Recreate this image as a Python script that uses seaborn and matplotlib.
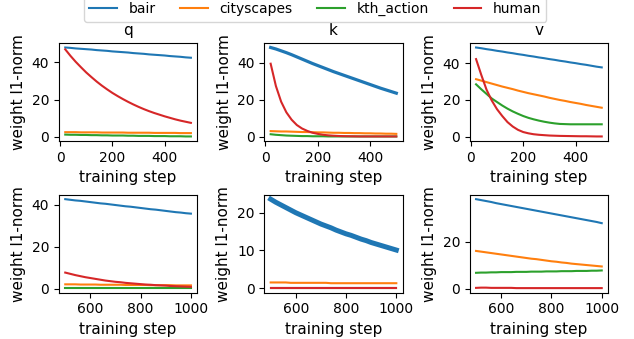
import numpy as np
import pandas as pd
import matplotlib
matplotlib.use("Agg")
import matplotlib.pyplot as plt
import seaborn as sns
from matplotlib.lines import Line2D

datasets = ["bair", "cityscapes", "kth_action", "human"]
colors = ["#1f77b4", "#ff7f0e", "#2ca02c", "#d62728"]

steps_early = list(range(20, 501, 20))     # 25 points
steps_late = list(range(500, 1001, 20))    # 26 points

# ---- q (early) ----
q_bair_early = [48.0, 47.8, 47.5, 47.3, 47.1, 46.9, 46.6, 46.4, 46.2, 45.9, 45.7, 45.5, 45.3,
                45.0, 44.8, 44.6, 44.3, 44.1, 43.9, 43.7, 43.4, 43.2, 43.0, 42.7, 42.5]
q_city_early = [2.5, 2.5, 2.5, 2.4, 2.4, 2.4, 2.4, 2.3, 2.3, 2.3, 2.3, 2.3, 2.2,
                2.2, 2.2, 2.2, 2.2, 2.1, 2.1, 2.1, 2.1, 2.1, 2.0, 2.0, 2.0]
q_kth_early = [1.2, 1.1, 1.1, 1.0, 1.0, 0.9, 0.9, 0.8, 0.8, 0.7, 0.7, 0.7, 0.6,
               0.6, 0.5, 0.5, 0.5, 0.4, 0.4, 0.4, 0.3, 0.3, 0.3, 0.2, 0.2]
q_human_early = [47.0, 43.5, 40.3, 37.4, 34.6, 32.1, 29.7, 27.5, 25.5, 23.6, 21.9, 20.3, 18.8,
                 17.4, 16.1, 14.9, 13.8, 12.8, 11.9, 11.0, 10.2, 9.4, 8.7, 8.1, 7.5]

# ---- k (early) ----
k_bair_early = [48.4, 47.6, 46.6, 45.6, 44.5, 43.3, 42.1, 40.9, 39.7, 38.6, 37.5, 36.4, 35.3,
                34.3, 33.3, 32.3, 31.3, 30.3, 29.3, 28.3, 27.3, 26.3, 25.4, 24.5, 23.6]
k_city_early = [3.0, 2.9, 2.8, 2.8, 2.7, 2.6, 2.5, 2.5, 2.4, 2.3, 2.3, 2.2, 2.1,
                2.1, 2.0, 2.0, 1.9, 1.9, 1.8, 1.8, 1.7, 1.7, 1.6, 1.6, 1.5]
k_kth_early = [1.3, 1.0, 0.8, 0.6, 0.5, 0.4, 0.3, 0.3, 0.2, 0.2, 0.2, 0.1, 0.1,
               0.1, 0.1, 0.1, 0.1, 0.1, 0.1, 0.1, 0.1, 0.1, 0.1, 0.1, 0.1]
k_human_early = [39.6, 27.5, 19.0, 13.2, 9.2, 6.3, 4.4, 3.1, 2.1, 1.5, 1.0, 0.7, 0.5,
                 0.35, 0.25, 0.2, 0.15, 0.1, 0.1, 0.1, 0.1, 0.1, 0.1, 0.1, 0.1]

# ---- v (early) ----
v_bair_early = [48.5, 48.1, 47.6, 47.2, 46.7, 46.3, 45.8, 45.4, 44.9, 44.5, 44.0, 43.6, 43.1,
                42.7, 42.2, 41.8, 41.3, 40.9, 40.4, 40.0, 39.5, 39.1, 38.6, 38.1, 37.7]
v_city_early = [31.3, 30.5, 29.7, 28.9, 28.1, 27.3, 26.6, 25.9, 25.1, 24.4, 23.7, 23.1, 22.5,
                21.9, 21.2, 20.6, 20.0, 19.5, 18.9, 18.4, 17.9, 17.3, 16.8, 16.3, 15.8]
v_kth_early = [28.5, 25.8, 23.3, 20.8, 18.9, 17.0, 15.3, 13.8, 12.5, 11.3, 10.3, 9.5, 8.8,
               8.2, 7.7, 7.3, 7.0, 6.9, 6.8, 6.8, 6.8, 6.8, 6.8, 6.8, 6.8]
v_human_early = [42.2, 33.6, 25.6, 19.7, 15.0, 11.3, 8.0, 5.6, 3.8, 2.6, 1.9, 1.4, 1.1,
                 0.9, 0.7, 0.6, 0.5, 0.45, 0.4, 0.35, 0.3, 0.3, 0.25, 0.2, 0.2]

# ---- q (late) ----
q_bair_late = [42.6, 42.3, 42.0, 41.8, 41.5, 41.2, 40.9, 40.6, 40.4, 40.1, 39.8, 39.5, 39.2,
               39.0, 38.7, 38.4, 38.1, 37.8, 37.6, 37.3, 37.0, 36.7, 36.4, 36.2, 35.9, 35.7]
q_city_late = [2.0, 2.0, 2.0, 1.9, 1.9, 1.9, 1.9, 1.8, 1.8, 1.8, 1.8, 1.8, 1.7,
               1.7, 1.7, 1.7, 1.7, 1.6, 1.6, 1.6, 1.6, 1.6, 1.5, 1.5, 1.5, 1.5]
q_kth_late = [0.2, 0.2, 0.2, 0.2, 0.2, 0.2, 0.2, 0.2, 0.2, 0.2, 0.2, 0.2, 0.2,
              0.2, 0.2, 0.2, 0.2, 0.2, 0.2, 0.2, 0.2, 0.2, 0.2, 0.2, 0.2, 0.2]
q_human_late = [7.6, 7.0, 6.4, 5.9, 5.4, 5.0, 4.6, 4.2, 3.8, 3.5, 3.2, 3.0, 2.7,
                2.5, 2.3, 2.1, 1.9, 1.8, 1.6, 1.5, 1.4, 1.2, 1.1, 1.0, 0.9, 0.8]

# ---- k (late) ----
k_bair_late = [23.6, 22.8, 22.1, 21.4, 20.7, 20.0, 19.4, 18.8, 18.2, 17.6, 17.0, 16.5, 16.0,
               15.4, 14.9, 14.4, 14.0, 13.5, 13.0, 12.6, 12.1, 11.7, 11.3, 10.9, 10.5, 10.1]
k_city_late = [1.5, 1.5, 1.5, 1.5, 1.4, 1.4, 1.4, 1.4, 1.4, 1.4, 1.4, 1.4, 1.3,
               1.3, 1.3, 1.3, 1.3, 1.3, 1.3, 1.3, 1.3, 1.3, 1.3, 1.3, 1.3, 1.3]
k_kth_late = [0.0] * 26
k_human_late = [0.05] * 26

# ---- v (late) ----
v_bair_late = [38.0, 37.6, 37.2, 36.8, 36.3, 35.9, 35.5, 35.1, 34.7, 34.3, 33.9, 33.5, 33.1,
               32.7, 32.3, 31.9, 31.5, 31.1, 30.7, 30.3, 29.9, 29.5, 29.1, 28.7, 28.3, 27.8]
v_city_late = [16.0, 15.7, 15.4, 15.1, 14.8, 14.5, 14.2, 13.9, 13.6, 13.3, 13.0, 12.7, 12.5,
               12.2, 11.9, 11.6, 11.4, 11.1, 10.9, 10.6, 10.4, 10.2, 10.0, 9.8, 9.6, 9.4]
v_kth_late = [6.7, 6.8, 6.8, 6.9, 6.9, 7.0, 7.0, 7.0, 7.1, 7.1, 7.1, 7.2, 7.2,
              7.2, 7.3, 7.3, 7.3, 7.4, 7.4, 7.4, 7.5, 7.5, 7.5, 7.6, 7.6, 7.7]
v_human_late = [0.3, 0.4, 0.4, 0.3, 0.3, 0.3, 0.3, 0.3, 0.2, 0.2, 0.2, 0.2, 0.2,
                0.2, 0.2, 0.2, 0.2, 0.2, 0.2, 0.2, 0.2, 0.2, 0.2, 0.2, 0.2, 0.2]

panels = [
    ("q", steps_early, [q_bair_early, q_city_early, q_kth_early, q_human_early]),
    ("k", steps_early, [k_bair_early, k_city_early, k_kth_early, k_human_early]),
    ("v", steps_early, [v_bair_early, v_city_early, v_kth_early, v_human_early]),
    ("q", steps_late, [q_bair_late, q_city_late, q_kth_late, q_human_late]),
    ("k", steps_late, [k_bair_late, k_city_late, k_kth_late, k_human_late]),
    ("v", steps_late, [v_bair_late, v_city_late, v_kth_late, v_human_late]),
]

fig, axes = plt.subplots(2, 3, figsize=(6.34, 3.39), dpi=100)
fig.subplots_adjust(left=0.093, right=0.959, top=0.873, bottom=0.137,
                    wspace=0.486, hspace=0.55)
palette = dict(zip(datasets, colors))

for i, (name, steps, series) in enumerate(panels):
    ax = axes.flat[i]
    rows = []
    for ds, vals in zip(datasets, series):
        for s, v in zip(steps, vals):
            rows.append({"step": s, "norm": v, "dataset": ds})
    df = pd.DataFrame(rows)
    sns.lineplot(data=df, x="step", y="norm", hue="dataset", hue_order=datasets,
                 palette=palette, legend=False, ax=ax, linewidth=1.5)
    if name == "k":
        ax.lines[0].set_linewidth(2.3 if i < 3 else 3.6)
    ax.set_xlabel("training step", fontsize=11)
    ax.set_ylabel("weight l1-norm", fontsize=11)
    if i < 3:
        ax.set_title(name, fontsize=11)
        ax.set_xticks([0, 200, 400])
    else:
        ax.set_xticks([600, 800, 1000])
    ax.tick_params(labelsize=10)

handles = [Line2D([0], [0], color=c, lw=1.5) for c in colors]
fig.legend(handles, datasets, loc="upper center", ncol=4,
           bbox_to_anchor=(0.497, 1.03), fontsize=10, columnspacing=1.8)

fig.savefig("out.png", dpi=100)
